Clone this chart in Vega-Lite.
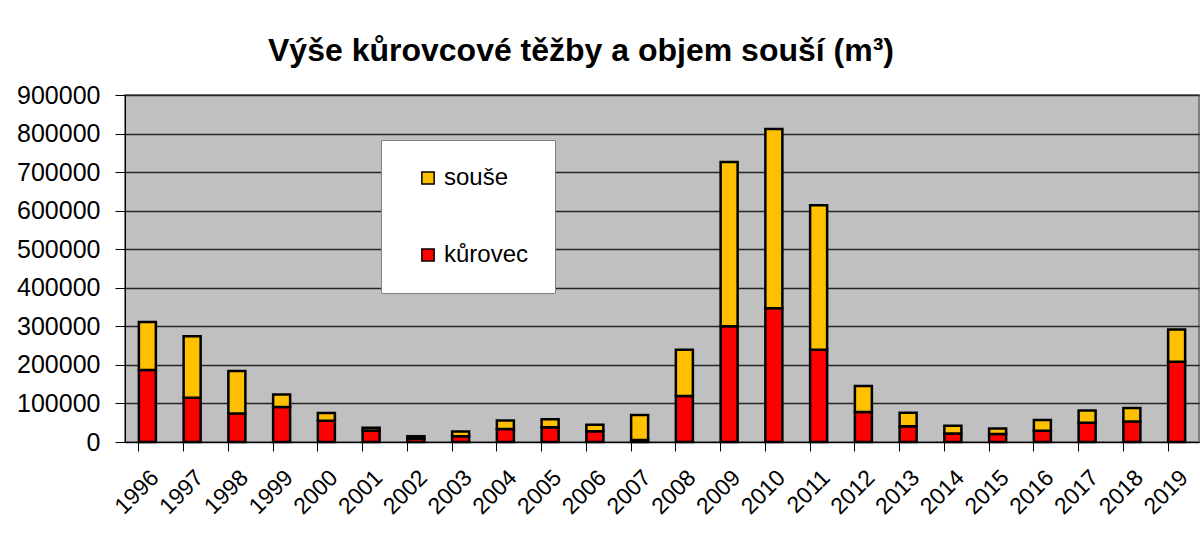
{
  "$schema": "https://vega.github.io/schema/vega-lite/v6.json",
  "width": 1074,
  "height": 347,
  "autosize": "none",
  "padding": {"left": 125, "top": 95, "right": 4, "bottom": 106},
  "background": "white",
  "title": {
    "text": "Výše kůrovcové těžby a objem souší (m³)",
    "font": "Liberation Sans",
    "fontSize": 32,
    "fontWeight": "bold",
    "color": "black",
    "anchor": "middle",
    "frame": "group",
    "dx": -81,
    "offset": 15
  },
  "data": {
    "values": [
      {"rok": "1996", "typ": "kůrovec", "objem": 187000}, {"rok": "1996", "typ": "souše", "objem": 124000},
      {"rok": "1997", "typ": "kůrovec", "objem": 115000}, {"rok": "1997", "typ": "souše", "objem": 159000},
      {"rok": "1998", "typ": "kůrovec", "objem": 74000}, {"rok": "1998", "typ": "souše", "objem": 110000},
      {"rok": "1999", "typ": "kůrovec", "objem": 91000}, {"rok": "1999", "typ": "souše", "objem": 32000},
      {"rok": "2000", "typ": "kůrovec", "objem": 55000}, {"rok": "2000", "typ": "souše", "objem": 20000},
      {"rok": "2001", "typ": "kůrovec", "objem": 30000}, {"rok": "2001", "typ": "souše", "objem": 7000},
      {"rok": "2002", "typ": "kůrovec", "objem": 9000}, {"rok": "2002", "typ": "souše", "objem": 6000},
      {"rok": "2003", "typ": "kůrovec", "objem": 15000}, {"rok": "2003", "typ": "souše", "objem": 12000},
      {"rok": "2004", "typ": "kůrovec", "objem": 34000}, {"rok": "2004", "typ": "souše", "objem": 22000},
      {"rok": "2005", "typ": "kůrovec", "objem": 38000}, {"rok": "2005", "typ": "souše", "objem": 21000},
      {"rok": "2006", "typ": "kůrovec", "objem": 28000}, {"rok": "2006", "typ": "souše", "objem": 17000},
      {"rok": "2007", "typ": "kůrovec", "objem": 5000}, {"rok": "2007", "typ": "souše", "objem": 65000},
      {"rok": "2008", "typ": "kůrovec", "objem": 119000}, {"rok": "2008", "typ": "souše", "objem": 120000},
      {"rok": "2009", "typ": "kůrovec", "objem": 300000}, {"rok": "2009", "typ": "souše", "objem": 426000},
      {"rok": "2010", "typ": "kůrovec", "objem": 347000}, {"rok": "2010", "typ": "souše", "objem": 465000},
      {"rok": "2011", "typ": "kůrovec", "objem": 239000}, {"rok": "2011", "typ": "souše", "objem": 375000},
      {"rok": "2012", "typ": "kůrovec", "objem": 78000}, {"rok": "2012", "typ": "souše", "objem": 67000},
      {"rok": "2013", "typ": "kůrovec", "objem": 41000}, {"rok": "2013", "typ": "souše", "objem": 35000},
      {"rok": "2014", "typ": "kůrovec", "objem": 22000}, {"rok": "2014", "typ": "souše", "objem": 20000},
      {"rok": "2015", "typ": "kůrovec", "objem": 21000}, {"rok": "2015", "typ": "souše", "objem": 14000},
      {"rok": "2016", "typ": "kůrovec", "objem": 29000}, {"rok": "2016", "typ": "souše", "objem": 28000},
      {"rok": "2017", "typ": "kůrovec", "objem": 50000}, {"rok": "2017", "typ": "souše", "objem": 32000},
      {"rok": "2018", "typ": "kůrovec", "objem": 53000}, {"rok": "2018", "typ": "souše", "objem": 35000},
      {"rok": "2019", "typ": "kůrovec", "objem": 208000}, {"rok": "2019", "typ": "souše", "objem": 84000}
    ]
  },
  "layer": [
    {
      "mark": {"type": "bar", "stroke": "black", "strokeWidth": 2.5},
      "encoding": {
        "x": {
          "field": "rok", "type": "nominal",
          "scale": {"type": "band", "paddingInner": 0.62, "paddingOuter": 0.31},
          "axis": {"title": null, "ticks": false, "labelAngle": -45, "labelAlign": "right", "labelBaseline": "top", "labelFontSize": 23, "labelPadding": 24, "labelFont": "Liberation Sans", "labelColor": "black", "domain": true, "domainColor": "black", "domainWidth": 1}
        },
        "y": {
          "field": "objem", "type": "quantitative", "stack": "zero",
          "scale": {"domain": [0, 900000], "nice": false},
          "axis": {"title": null, "values": [0, 100000, 200000, 300000, 400000, 500000, 600000, 700000, 800000, 900000], "labelOverlap": false, "format": "d", "labelFontSize": 25, "labelFont": "Liberation Sans", "labelColor": "black", "tickSize": 10, "tickColor": "black", "labelPadding": 15, "domainColor": "black", "grid": true, "gridColor": "#262626", "gridWidth": 1.5}
        },
        "color": {
          "field": "typ", "type": "nominal",
          "scale": {"domain": ["souše", "kůrovec"], "range": ["#FFC000", "#FF0000"]},
          "legend": {
            "title": null, "orient": "none", "legendX": 256, "legendY": 45,
            "fillColor": "white", "strokeColor": "#808080", "padding": 26,
            "symbolType": "square", "symbolSize": 150, "symbolStrokeColor": "black", "symbolStrokeWidth": 1.5, "symbolOpacity": 1,
            "symbolOffset": 9,
            "labelFontSize": 24, "labelFont": "Liberation Sans", "labelColor": "black", "labelOffset": 4,
            "rowPadding": 53
          }
        },
        "order": {"field": "typ", "sort": "ascending"}
      }
    },
    {
      "mark": {"type": "bar", "opacity": 0},
      "encoding": {
        "x": {
          "field": "rok", "type": "nominal",
          "axis": {"title": null, "orient": "bottom", "labels": false, "ticks": true, "tickSize": 9, "tickColor": "black", "bandPosition": 0, "domain": false}
        },
        "y": {
          "field": "objem", "type": "quantitative", "stack": "zero",
          "axis": {"title": null, "values": [0, 100000, 200000, 300000, 400000, 500000, 600000, 700000, 800000, 900000], "labelOverlap": false, "format": "d", "labelFontSize": 25, "labelFont": "Liberation Sans", "labelColor": "black", "tickSize": 10, "tickColor": "black", "labelPadding": 15, "domainColor": "black", "grid": true, "gridColor": "#262626", "gridWidth": 1.5}
        }
      }
    }
  ],
  "resolve": {"axis": {"x": "independent"}},
  "config": {
    "view": {"fill": "#C0C0C0", "stroke": "#808080", "strokeWidth": 2},
    "font": "Liberation Sans"
  }
}
